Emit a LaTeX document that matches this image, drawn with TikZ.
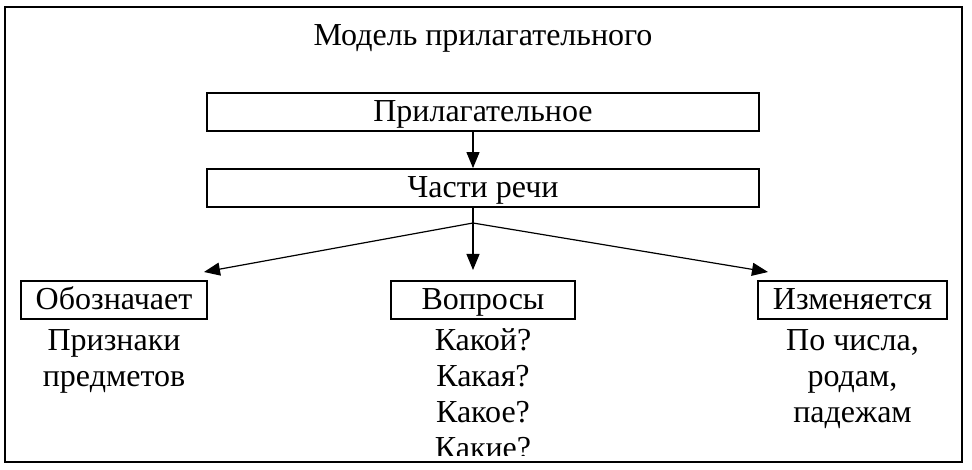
\documentclass[tikz,border=0pt]{standalone}
\usepackage{fontspec}
\setmainfont{Liberation Serif}
\usetikzlibrary{arrows.meta}
\tikzset{
  txt/.style={font=\fontsize{32}{36}\selectfont, inner sep=0pt, align=center},
  box/.style={draw, line width=1.8pt, minimum height=38pt, inner sep=0pt, text height=26pt, text depth=6pt, font=\fontsize{32}{36}\selectfont},
  arr/.style={line width=1.2pt, -{Triangle[length=16pt,width=13pt]}},
}
\begin{document}
\begin{tikzpicture}[x=1pt,y=-1pt]
\useasboundingbox (0,0) rectangle (972,470);
\draw[line width=2.4pt] (5,7) rectangle (962,462);
\node[txt, anchor=base] (title) at (483,46) {Модель прилагательного};
\node[box, minimum width=552pt] (adj) at (483,112) {Прилагательное};
\node[box, minimum width=552pt] (parts) at (483,188) {Части речи};
\node[box, minimum width=186pt] (oboz) at (114,300) {Обозначает};
\node[box, minimum width=184pt] (vopr) at (483,300) {Вопросы};
\node[box, minimum width=189pt] (izm) at (852.5,300) {Изменяется};
\coordinate (apex) at (473,223);
\coordinate (tipL) at (204,272);
\coordinate (tipM) at (473,270);
\coordinate (tipR) at (768,272);
\draw[arr] (adj.south -| apex) -- (parts.north -| apex);
\draw[line width=1.2pt] (parts.south -| apex) -- (apex);
\draw[arr] (apex) -- (tipL);
\draw[arr] (apex) -- (tipM);
\draw[arr] (apex) -- (tipR);
\begin{scope}
\clip (6,8) rectangle (961,455);
\node[txt, anchor=base] (t1) at (114,386) {Признаки\\предметов};
\node[txt, anchor=base] (t2) at (483,458) {Какой?\\Какая?\\Какое?\\Какие?};
\node[txt, anchor=base] (t3) at (852.5,422) {По числа,\\родам,\\падежам};
\end{scope}
\end{tikzpicture}
\end{document}
